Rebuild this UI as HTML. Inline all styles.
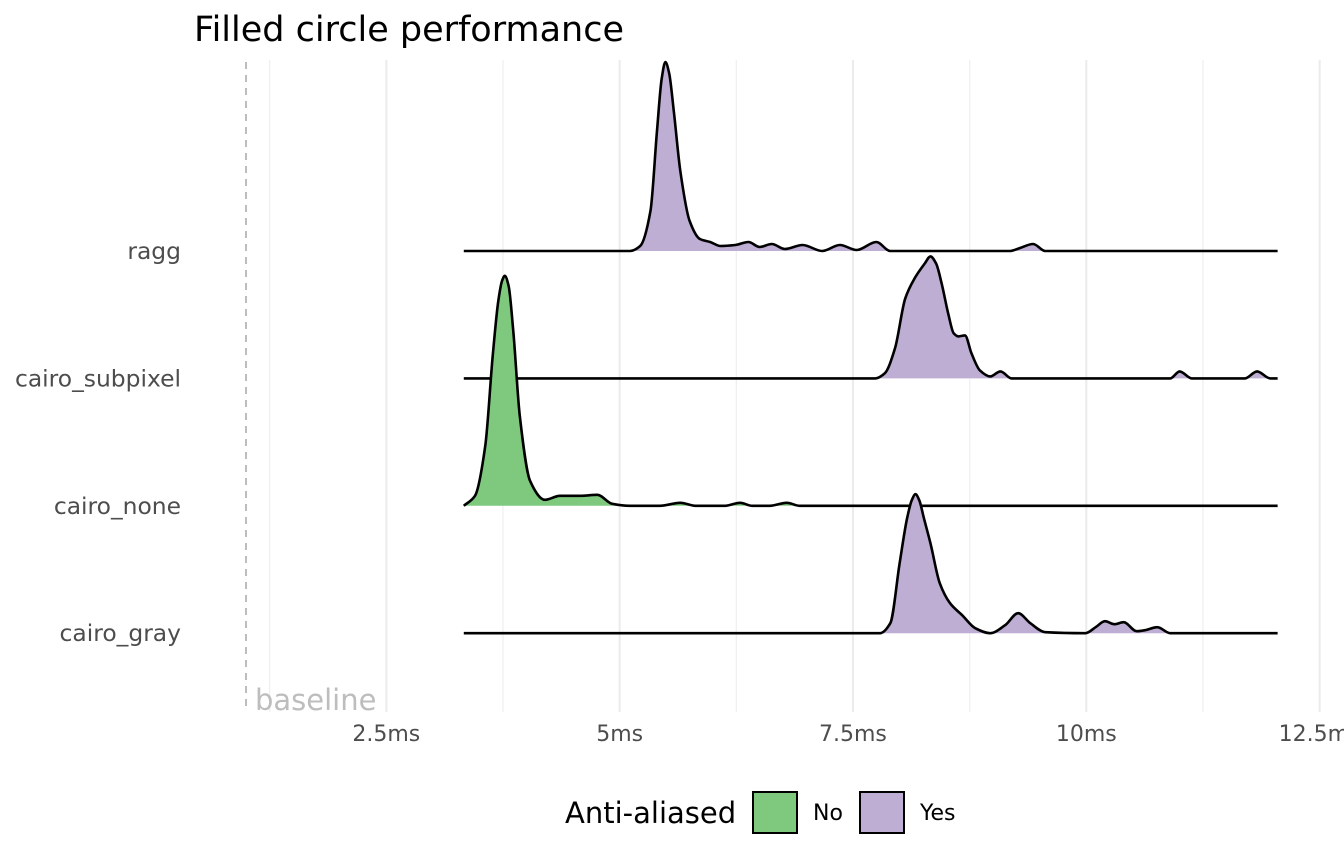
<!DOCTYPE html>
<html><head><meta charset="utf-8">
<style>
html,body{margin:0;padding:0;background:#fff;}
svg{display:block;font-family:"DejaVu Sans","Liberation Sans",sans-serif;}
</style></head>
<body>
<svg id="chart" width="1344" height="865" viewBox="0 0 1344 865">
<text x="194" y="41" font-size="35" fill="#000">Filled circle performance</text>
<g id="grid"></g>
<g id="ridges"></g>
<g id="ylabels"></g>
<g id="xlabels"></g>
<line x1="246" y1="62" x2="246" y2="712" stroke="#bdbdbd" stroke-width="2" stroke-dasharray="7,6"/>
<text x="255" y="710" font-size="29" fill="#bdbdbd">baseline</text>
<g>
<text x="565" y="823" font-size="29" fill="#000">Anti-aliased</text>
<rect x="753" y="792" width="44" height="41" fill="#7fc97f" stroke="#000" stroke-width="2"/>
<text x="813" y="820" font-size="22" fill="#000">No</text>
<rect x="860" y="792" width="44" height="41" fill="#beaed4" stroke="#000" stroke-width="2"/>
<text x="920" y="820" font-size="22" fill="#000">Yes</text>
</g>
</svg>
<script>
const categories = ["ragg","cairo_subpixel","cairo_none","cairo_gray"];
const antiAliased = ["Yes","Yes","No","Yes"];
const xTicks = [2.5,5,7.5,10,12.5];
const xTickLabels = ["2.5ms","5ms","7.5ms","10ms","12.5ms"];
const xMinor = [1.25,3.75,6.25,8.75,11.25];
const raggX = [3.33,5.11,5.22,5.33,5.40,5.45,5.49,5.53,5.58,5.65,5.75,5.86,5.97,6.08,6.24,6.38,6.50,6.63,6.77,6.96,7.17,7.36,7.54,7.75,7.90,9.18,9.29,9.43,9.56,12.05];
const raggY = [0,0,0.05,0.4,1.2,1.72,1.89,1.78,1.4,0.8,0.3,0.12,0.09,0.05,0.06,0.09,0.04,0.07,0.02,0.06,0,0.06,0.01,0.09,0,0,0.03,0.07,0,0];
const subX = [3.33,7.74,7.84,7.95,8.06,8.16,8.27,8.33,8.39,8.45,8.52,8.58,8.63,8.70,8.77,8.86,8.97,9.08,9.20,10.90,11.00,11.13,11.70,11.83,11.97,12.05];
const subY = [0,0,0.05,0.3,0.8,1.0,1.15,1.22,1.15,0.95,0.65,0.45,0.42,0.43,0.25,0.08,0.02,0.07,0,0,0.07,0,0,0.07,0,0];
const noneX = [3.33,3.45,3.56,3.64,3.70,3.74,3.77,3.81,3.86,3.93,4.04,4.20,4.36,4.58,4.76,4.92,5.11,5.43,5.65,5.81,6.13,6.29,6.42,6.61,6.79,6.93,12.05];
const noneY = [0,0.1,0.6,1.5,2.05,2.25,2.3,2.2,1.75,0.9,0.25,0.06,0.1,0.1,0.11,0.02,0,0,0.03,0,0,0.03,0,0,0.03,0,0];
const grayX = [3.33,7.79,7.90,8.00,8.08,8.13,8.17,8.21,8.26,8.33,8.43,8.54,8.67,8.81,8.97,9.13,9.27,9.40,9.56,9.99,10.10,10.20,10.30,10.40,10.54,10.63,10.76,10.90,12.05];
const grayY = [0,0,0.1,0.7,1.15,1.33,1.39,1.33,1.15,0.9,0.5,0.3,0.18,0.05,0,0.08,0.2,0.1,0.01,0,0.06,0.12,0.09,0.11,0.02,0.03,0.06,0,0];
const seriesX = [raggX,subX,noneX,grayX];
const seriesY = [raggY,subY,noneY,grayY];

const NS="http://www.w3.org/2000/svg";
const xs = ms => 153 + ms*93.33;
const rowBase = i => 251 + i*127.4;
const ys = (i,v) => rowBase(i) - v*100;
const fills = {Yes:"#beaed4", No:"#7fc97f"};
const FONT_TICK = 22;
const FONT_YLAB = 23.4;

const grid=document.getElementById("grid");
xMinor.forEach(t=>{
  const l=document.createElementNS(NS,"line");
  
  
  l.setAttribute("x1",xs(t));l.setAttribute("x2",xs(t));l.setAttribute("y1",60);l.setAttribute("y2",712);
  l.setAttribute("stroke","#f0f0f0");l.setAttribute("stroke-width","1.3");grid.appendChild(l);
});
const xl=document.getElementById("xlabels");
xTicks.forEach((t,k)=>{
  const l=document.createElementNS(NS,"line");
  
  
  l.setAttribute("x1",xs(t));l.setAttribute("x2",xs(t));l.setAttribute("y1",60);l.setAttribute("y2",712);
  l.setAttribute("stroke","#ebebeb");l.setAttribute("stroke-width","2");grid.appendChild(l);
  const tx=document.createElementNS(NS,"text");
  
  
  tx.setAttribute("x",xs(t));tx.setAttribute("y",741);tx.setAttribute("text-anchor","middle");
  tx.setAttribute("font-size",FONT_TICK);tx.setAttribute("fill","#4d4d4d");
  tx.textContent=xTickLabels[k];xl.appendChild(tx);
});
const yl=document.getElementById("ylabels");
categories.forEach((c,i)=>{
  const tx=document.createElementNS(NS,"text");
  
  
  tx.setAttribute("x",181);tx.setAttribute("y",rowBase(i)+8);tx.setAttribute("text-anchor","end");
  tx.setAttribute("font-size",FONT_YLAB);tx.setAttribute("fill","#4d4d4d");
  tx.textContent=c;yl.appendChild(tx);
});
function monotone(pts){
  const n=pts.length, dx=[], m=[], t=[];
  for(let i=0;i<n-1;i++){dx[i]=pts[i+1][0]-pts[i][0];m[i]=(pts[i+1][1]-pts[i][1])/dx[i];}
  t[0]=m[0];t[n-1]=m[n-2];
  for(let i=1;i<n-1;i++){
    if(m[i-1]*m[i]<=0) t[i]=0;
    else{const w1=2*dx[i]+dx[i-1],w2=dx[i]+2*dx[i-1];t[i]=(w1+w2)/(w1/m[i-1]+w2/m[i]);}
  }
  let d="M"+pts[0][0]+","+pts[0][1];
  for(let i=0;i<n-1;i++){
    const h=dx[i]/3;
    d+=" C"+(pts[i][0]+h)+","+(pts[i][1]+t[i]*h)+" "+(pts[i+1][0]-h)+","+(pts[i+1][1]-t[i+1]*h)+" "+pts[i+1][0]+","+pts[i+1][1];
  }
  return d;
}
const ridges=document.getElementById("ridges");
categories.forEach((c,i)=>{
  const pts=seriesX[i].map((x,k)=>[xs(x),ys(i,seriesY[i][k])]);
  const line=monotone(pts);
  const area=document.createElementNS(NS,"path");
  
  
  area.setAttribute("d",line+" L"+pts[pts.length-1][0]+","+rowBase(i)+" L"+pts[0][0]+","+rowBase(i)+" Z");
  area.setAttribute("fill",fills[antiAliased[i]]);ridges.appendChild(area);
  const p=document.createElementNS(NS,"path");
  
  
  p.setAttribute("d",line);p.setAttribute("fill","none");p.setAttribute("stroke","#000");p.setAttribute("stroke-width","2.6");
  p.setAttribute("stroke-linejoin","round");
  ridges.appendChild(p);
});
</script>
</body></html>
